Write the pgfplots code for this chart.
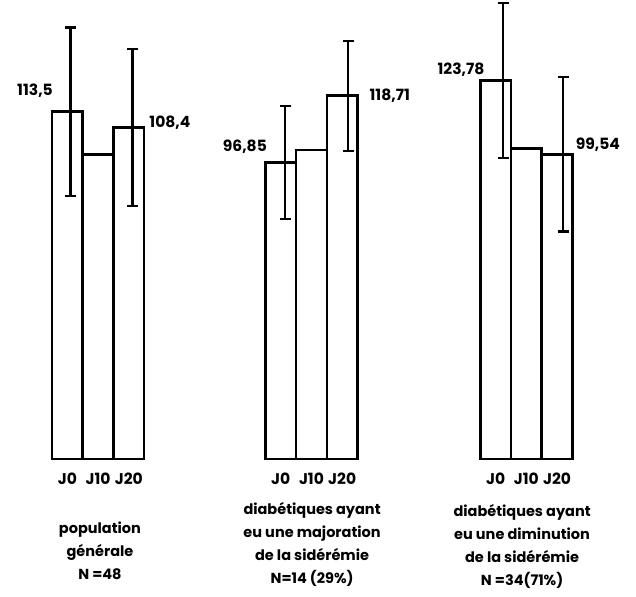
\documentclass[border=0pt]{standalone}
\usepackage{fontspec}
\setmainfont{Poppins}
\usepackage{pgfplots}
\pgfplotsset{compat=1.18}

\begin{document}
\begin{tikzpicture}
\useasboundingbox (0,0) rectangle (636pt,596pt);
\begin{axis}[
    at={(0pt,137pt)}, anchor=south west,
    scale only axis,
    width=636pt, height=459pt,
    xmin=-2.195, xmax=18.52,
    ymin=0, ymax=150,
    axis line style={draw=none},
    ytick=\empty,
    xtick={0,1,2,6.95,7.95,8.95,13.95,14.95,15.95},
    xticklabels={J0,J10,J20,J0,J10,J20,J0,J10,J20},
    major tick length=0pt,
    xticklabel style={font=\bfseries\fontsize{15.5}{18}\selectfont, yshift=-10pt},
    clip=false,
]
% mean values, J0 / J10 / J20 for each group
\addplot[ybar, bar width=1, bar shift=0pt, fill=white, draw=black, line width=2.6pt]
coordinates {
    (0,113.5) (1,99.5) (2,108.4)
    (6.95,96.85) (7.95,101) (8.95,118.71)
    (13.95,123.78) (14.95,101.5) (15.95,99.54)
};
% standard deviations on J0 and J20
\addplot[draw=none, mark=none, forget plot,
    error bars/.cd, y dir=both, y explicit,
    error bar style={draw=black, line width=2.2pt},
    error mark options={rotate=90, mark size=5.5pt, line width=2.2pt, draw=black}]
coordinates {
    (0.1,113.5) +- (0,27.5)
    (2.12,108.4) +- (0,25.6)
    (7.1,96.85) +- (0,18.5)
    (9.15,118.71) +- (0,18)
    (14.2,123.78) +- (0,25.3)
    (16.15,99.54) +- (0,25.2)
};
\begin{scope}[every node/.style={font=\bfseries\fontsize{15.5}{18}\selectfont, inner sep=0pt}]
\node at (axis cs:-1.055,120.3) {113,5};
\node at (axis cs:3.34,109.8) {108,4};
\node at (axis cs:5.78,102) {96,85};
\node at (axis cs:10.5,118.6) {118,71};
\node at (axis cs:12.82,127.1) {123,78};
\node at (axis cs:17.28,102.6) {99,54};
\end{scope}
\begin{scope}[every node/.style={font=\bfseries\fontsize{14.5}{23}\selectfont, inner sep=0pt, align=center, anchor=north}]
\node at (axis cs:1.06,-20.6) {population\\générale\\N =48};
\node at (axis cs:7.97,-14.1) {diabétiques ayant\\eu une majoration\\de la sidérémie\\N=14 (29\%)};
\node at (axis cs:14.81,-14.7) {diabétiques ayant\\eu une diminution\\de la sidérémie\\N =34(71\%)};
\end{scope}
\end{axis}
\end{tikzpicture}
\end{document}
